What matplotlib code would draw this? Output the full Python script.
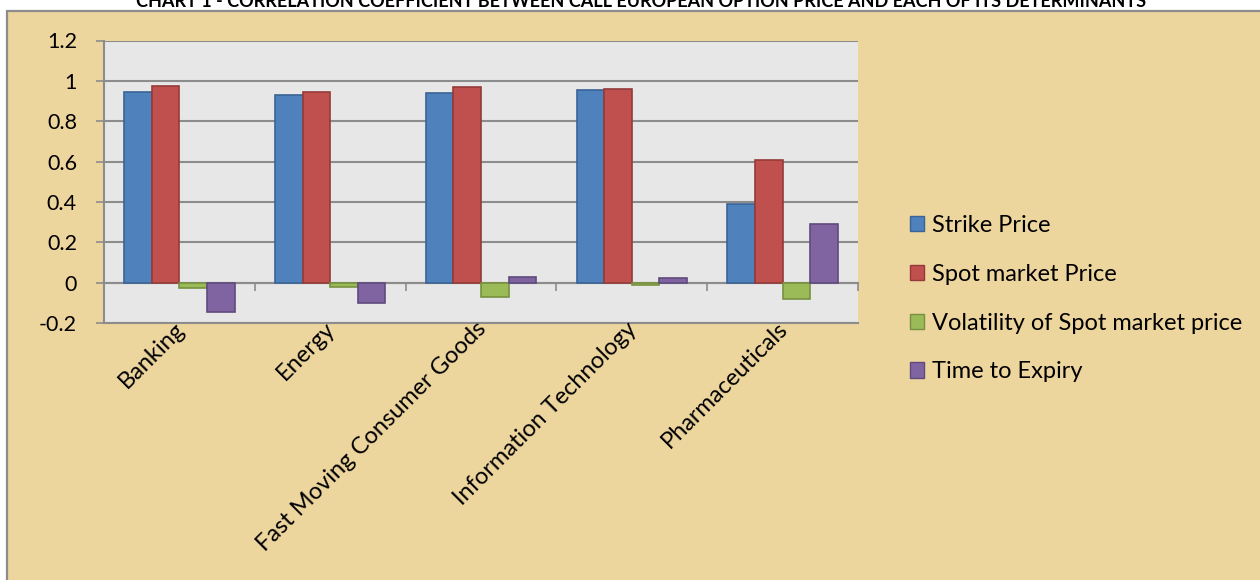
import matplotlib
matplotlib.use("Agg")
import matplotlib.pyplot as plt
import matplotlib.transforms as mtransforms
from matplotlib.patches import Rectangle, Patch
import numpy as np

plt.rcParams['font.family'] = ['Lato', 'DejaVu Sans']

categories = ["Banking", "Energy", "Fast Moving Consumer Goods",
              "Information Technology", "Pharmaceuticals"]
series_names = ["Strike Price", "Spot market Price",
                "Volatility of Spot market price", "Time to Expiry"]
strike_price = [0.946, 0.931, 0.939, 0.955, 0.388]
spot_price = [0.974, 0.943, 0.970, 0.960, 0.607]
volatility = [-0.028, -0.023, -0.072, -0.013, -0.079]
time_to_expiry = [-0.144, -0.100, 0.027, 0.022, 0.289]
y_ticks = [-0.2, 0, 0.2, 0.4, 0.6, 0.8, 1, 1.2]
y_tick_labels = ["-0.2", "0", "0.2", "0.4", "0.6", "0.8", "1", "1.2"]
title = ("CHART 1 - CORRELATION COEFFICIENT BETWEEN CALL EUROPEAN OPTION "
         "PRICE AND EACH OF ITS DETERMINANTS")

series = [strike_price, spot_price, volatility, time_to_expiry]
faces = ["#4F81BD", "#C0504D", "#9BBB59", "#8064A2"]
edges = ["#3A6496", "#943B39", "#77913F", "#5F4A7D"]

W, H = 1260, 580
fig = plt.figure(figsize=(W / 100, H / 100), dpi=100)
fig.patch.set_facecolor("white")

# parchment chart area with grey border
fig.patches.append(Rectangle((7 / W, -0.05), 1.1, (H - 11) / H + 0.05,
                             transform=fig.transFigure, facecolor="#EDD59E",
                             edgecolor="#8C8C8C", linewidth=1.6, zorder=-5))

fig.text(641 / W, 1 - 7 / H, title, ha="center", va="baseline",
         fontsize=13, fontweight="bold", color="black")

ax = fig.add_axes([104 / W, (H - 323) / H, (858 - 104) / W, (323 - 40.5) / H])
ax.set_zorder(2)
ax.set_facecolor("#E7E7E7")

n = len(categories)
x = np.arange(n)
bw = 0.183
offsets = (np.arange(len(series)) - (len(series) - 1) / 2) * bw
for vals, off, fc, ec, name in zip(series, offsets, faces, edges, series_names):
    ax.bar(x + off, vals, width=bw, color=fc, edgecolor=ec, linewidth=1.2,
           label=name, zorder=3)

ax.set_xlim(-0.5, n - 0.5)
ax.set_ylim(-0.2, 1.2)
ax.set_yticks(y_ticks)
ax.set_yticklabels(y_tick_labels, fontsize=15.5)
ax.yaxis.grid(True, color="#8C8C8C", linewidth=1.5, zorder=1)
ax.tick_params(axis="y", length=5.5, width=1.2, color="#8C8C8C", pad=14)
for s in ["top", "right"]:
    ax.spines[s].set_visible(False)
for s in ["left", "bottom"]:
    ax.spines[s].set_color("#8C8C8C")
    ax.spines[s].set_linewidth(1.5)

ax.set_xticks([])
# category axis crossing at zero with boundary tick marks
sec = ax.secondary_xaxis((0 - (-0.2)) / 1.4)
sec.set_xticks(np.arange(n + 1) - 0.5)
sec.set_xticklabels([])
sec.tick_params(axis="x", direction="out", length=5.5, width=1.2, color="#8C8C8C")
sec.spines["bottom"].set_color("#8C8C8C")
sec.spines["bottom"].set_linewidth(1.5)

trans = mtransforms.blended_transform_factory(ax.transData, ax.transAxes)
trans = trans + mtransforms.ScaledTranslation(9 / 100, 5 / 100, fig.dpi_scale_trans)
for i, lab in enumerate(categories):
    ax.text(i, 0, lab, transform=trans, rotation=45, ha="right", va="top",
            fontsize=17, color="black")

handles = [Patch(facecolor=fc, edgecolor=ec, linewidth=1.0)
           for fc, ec in zip(faces, edges)]
fig.legend(handles, series_names, loc="upper left",
           bbox_to_anchor=(898 / W, 1 - 203 / H), frameon=False,
           fontsize=17, handlelength=0.62, handleheight=0.62, handletextpad=0.3,
           labelspacing=1.18, borderpad=0)

fig.savefig("out.png", dpi=100, facecolor=fig.get_facecolor())
